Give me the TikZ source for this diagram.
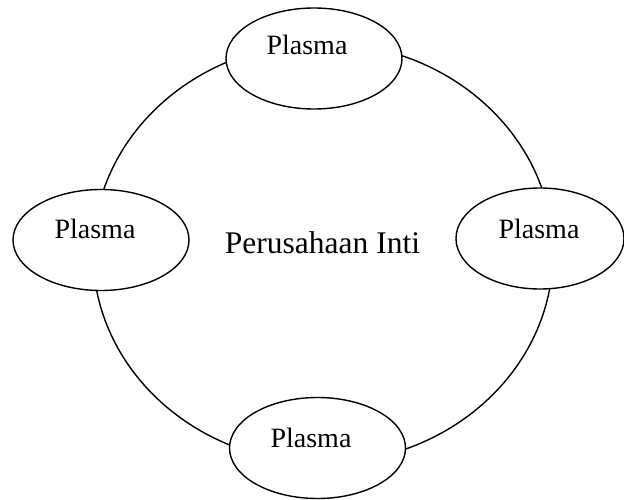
\documentclass[tikz,border=0pt]{standalone}
\usepackage{fontspec}
\setmainfont{Liberation Serif}
\usetikzlibrary{shapes.geometric}
\begin{document}
\begin{tikzpicture}[x=1pt,y=-1pt,
  ring/.style={draw=black,line width=1.4pt},
  plasmabox/.style={ellipse,draw=black,line width=1.4pt,fill=white,inner sep=0pt,minimum width=176pt,minimum height=101pt},
  plasmatext/.style={anchor=base,inner sep=0pt,font=\fontsize{28}{30}\selectfont},
  coretext/.style={anchor=base,inner sep=0pt,font=\fontsize{31.5}{34}\selectfont}]
\useasboundingbox[fill=white] (0,0) rectangle (624,500);
\coordinate (c) at (323,253);
\draw[ring] (c) ellipse [x radius=230pt, y radius=210pt];
\node[plasmabox] (top) at (314,58.5) {};
\node[plasmabox] (left) at (101,240) {};
\node[plasmabox,minimum width=168pt] (right) at (540,238.5) {};
\node[plasmabox] (bottom) at (317.5,448) {};
\node[plasmatext] (ttop) at (307,55) {Plasma};
\node[plasmatext] (tleft) at (95,238) {Plasma};
\node[plasmatext] (tright) at (539,238) {Plasma};
\node[plasmatext] (tbottom) at (311,447) {Plasma};
\node[coretext] (core) at (322.5,253) {Perusahaan Inti};
\end{tikzpicture}
\end{document}
